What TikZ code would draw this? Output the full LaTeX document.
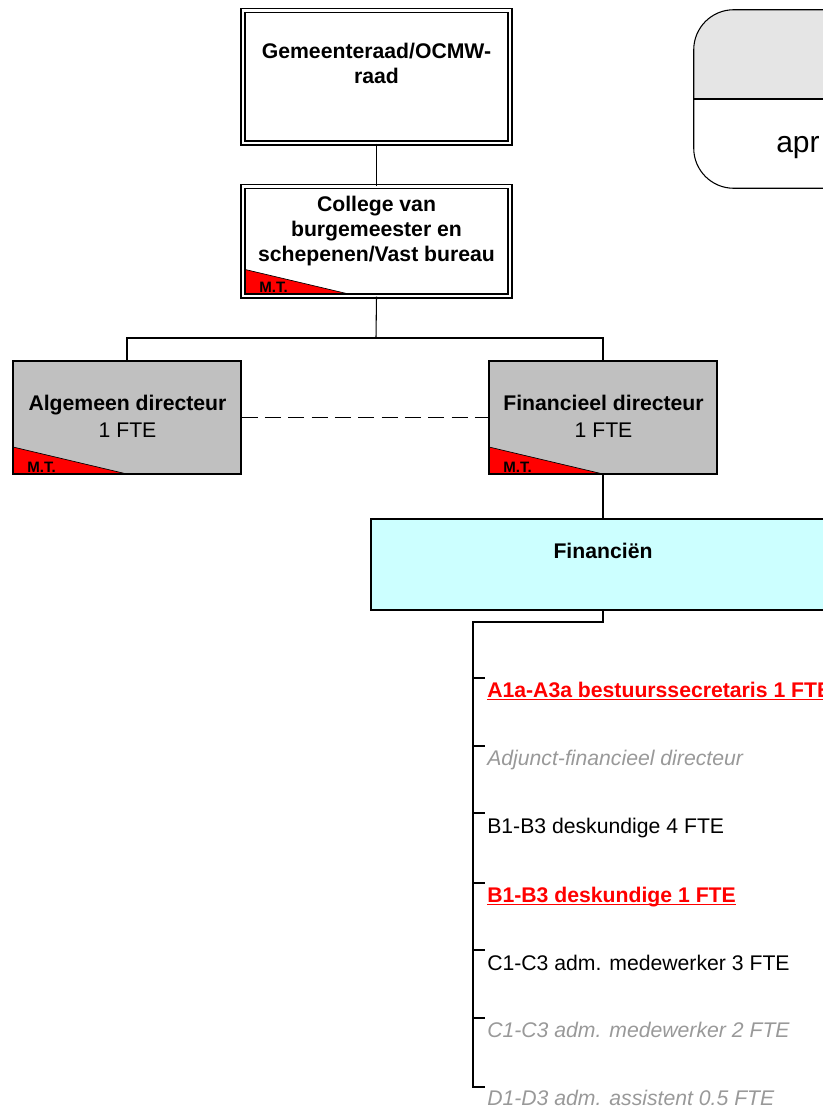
\documentclass[tikz,border=0pt]{standalone}
\usepackage{fontspec}
\setmainfont{Liberation Sans}
\definecolor{boxgray}{RGB}{192,192,192}
\definecolor{fincyan}{RGB}{204,255,255}
\definecolor{leggray}{RGB}{229,229,229}
\definecolor{itemgray}{RGB}{153,153,153}
\definecolor{mtred}{RGB}{255,0,0}
\begin{document}
\begin{tikzpicture}[x=0.75pt,y=-0.75pt,
  conn/.style={draw=black, line width=0.8pt},
  spine/.style={draw=black, line width=1.6pt},
  dbox/.style={draw=black, double=white, double distance=2.2pt, line width=1pt, fill=white, inner sep=0pt},
  dirbox/.style={draw=black, line width=0.9pt, fill=boxgray, inner sep=0pt, minimum width=171pt, minimum height=84.75pt},
  mtcorner/.style={path picture={
      \fill[mtred] (path picture bounding box.south west) -- ++(0pt,20.25pt) -- ++(85.5pt,-20.25pt) -- cycle;
      \draw[line width=0.5pt] ([yshift=20.25pt]path picture bounding box.south west) -- ([xshift=85.5pt]path picture bounding box.south west);}},
  txt/.style={inner sep=0pt, anchor=base, font=\fontsize{15.9}{18}\selectfont},
  btxt/.style={inner sep=0pt, anchor=base, font=\fontsize{15.9}{18}\selectfont\bfseries},
  mttxt/.style={inner sep=0pt, anchor=base west, font=\fontsize{11.3}{12}\selectfont\bfseries},
  itemtxt/.style={inner sep=0pt, anchor=base west, font=\fontsize{15.9}{18}\selectfont},
  newitem/.style={itemtxt, text=mtred, font=\fontsize{15.9}{18}\selectfont\bfseries},
  olditem/.style={itemtxt, text=itemgray, font=\fontsize{15.9}{18}\selectfont\itshape},
  tick/.style={draw=black, line width=0.8pt}
]
\useasboundingbox (0,0) rectangle (823,1110);

% legend box (top right)
\node[inner sep=0pt, minimum width=192pt, minimum height=133.5pt] (legend) at (822,99) {};
\begin{scope}
  \clip (680,0) rectangle (legend.east);
  \fill[leggray, rounded corners=30pt] (legend.south west) rectangle (legend.north east);
\end{scope}
\draw[conn, rounded corners=30pt] (legend.south west) rectangle (legend.north east);
\draw[conn] (legend.west) -- (legend.east);
\node[inner sep=0pt, anchor=base west, font=\fontsize{22.5}{24}\selectfont] (apr) at (776,152) {apr};

% Gemeenteraad
\node[dbox, minimum width=200.25pt, minimum height=99.4pt] (gem) at (376.5,76.75) {};
\node[btxt] (gemt1) at (376.5,58) {Gemeenteraad/OCMW-};
\node[btxt] (gemt2) at (376.5,83) {raad};

% College
\node[dbox, minimum width=200.25pt, minimum height=82.1pt, mtcorner] (col) at (376.5,241.25) {};
\node[btxt] (colt1) at (376.5,211) {College van};
\node[btxt] (colt2) at (376.5,236) {burgemeester en};
\node[btxt] (colt3) at (376.5,261) {schepenen/Vast bureau};
\node[mttxt] (colmt) at (259,292) {M.T.};

% Directors
\node[dirbox, mtcorner] (alg) at (127,417.5) {};
\node[btxt] (algt1) at (127.5,410) {Algemeen directeur};
\node[txt] (algt2) at (127.5,437) {1 FTE};
\node[mttxt] (algmt) at (27,472) {M.T.};

\node[dirbox, mtcorner] (fdir) at (603,417.5) {};
\node[btxt] (fdirt1) at (603.5,410) {Financieel directeur};
\node[txt] (fdirt2) at (603.5,437) {1 FTE};
\node[mttxt] (fdirmt) at (503,472) {M.T.};

% Financien
\node[draw=black, line width=0.9pt, fill=fincyan, inner sep=0pt, minimum width=348pt, minimum height=68.25pt] (fin) at (603,564.5) {};
\node[btxt] (fint) at (603,558) {Financiën};

% connectors
\coordinate (split) at (376,338);
\draw[conn] (gem.south) -- (col.north);
\draw[conn] (col.south) -- (split);
\draw[conn] (split) -| (alg.north);
\draw[conn] (split) -| (fdir.north);
\draw[conn, line width=1pt, dash pattern=on 12pt off 5.5pt] (alg.east) -- (fdir.west);
\draw[conn] (fdir.south) -- (fin.north);

% spine
\coordinate (sp) at (473,622);
\coordinate (t1) at (473,678);
\coordinate (t2) at (473,746);
\coordinate (t3) at (473,813);
\coordinate (t4) at (473,883);
\coordinate (t5) at (473,950);
\coordinate (t6) at (473,1018);
\coordinate (t7) at (473,1087);
\draw[spine] (fin.south) |- (sp) -- (t7) -- ++(12,0);
\foreach \t in {t1,t2,t3,t4,t5,t6} { \draw[tick] (\t) -- ++(12,0); }

% items
\node[newitem] (i1) at (487,697) {A1a-A3a bestuurssecretaris 1 FTE};
\draw[mtred, line width=1.1pt] ([yshift=-1.9pt]i1.base west) -- ([yshift=-1.9pt]i1.base east);
\node[olditem] (i2) at (487,765) {Adjunct-financieel directeur};
\node[itemtxt] (i3) at (487,833) {B1-B3 deskundige 4 FTE};
\node[newitem] (i4) at (487,902) {B1-B3 deskundige 1 FTE};
\draw[mtred, line width=1.1pt] ([yshift=-1.9pt]i4.base west) -- ([yshift=-1.9pt]i4.base east);
\node[itemtxt] (i5) at (487,970) {C1-C3 adm. medewerker 3 FTE};
\node[olditem] (i6) at (487,1037) {C1-C3 adm. medewerker 2 FTE};
\node[olditem] (i7) at (487,1105) {D1-D3 adm. assistent 0.5 FTE};
\end{tikzpicture}
\end{document}
